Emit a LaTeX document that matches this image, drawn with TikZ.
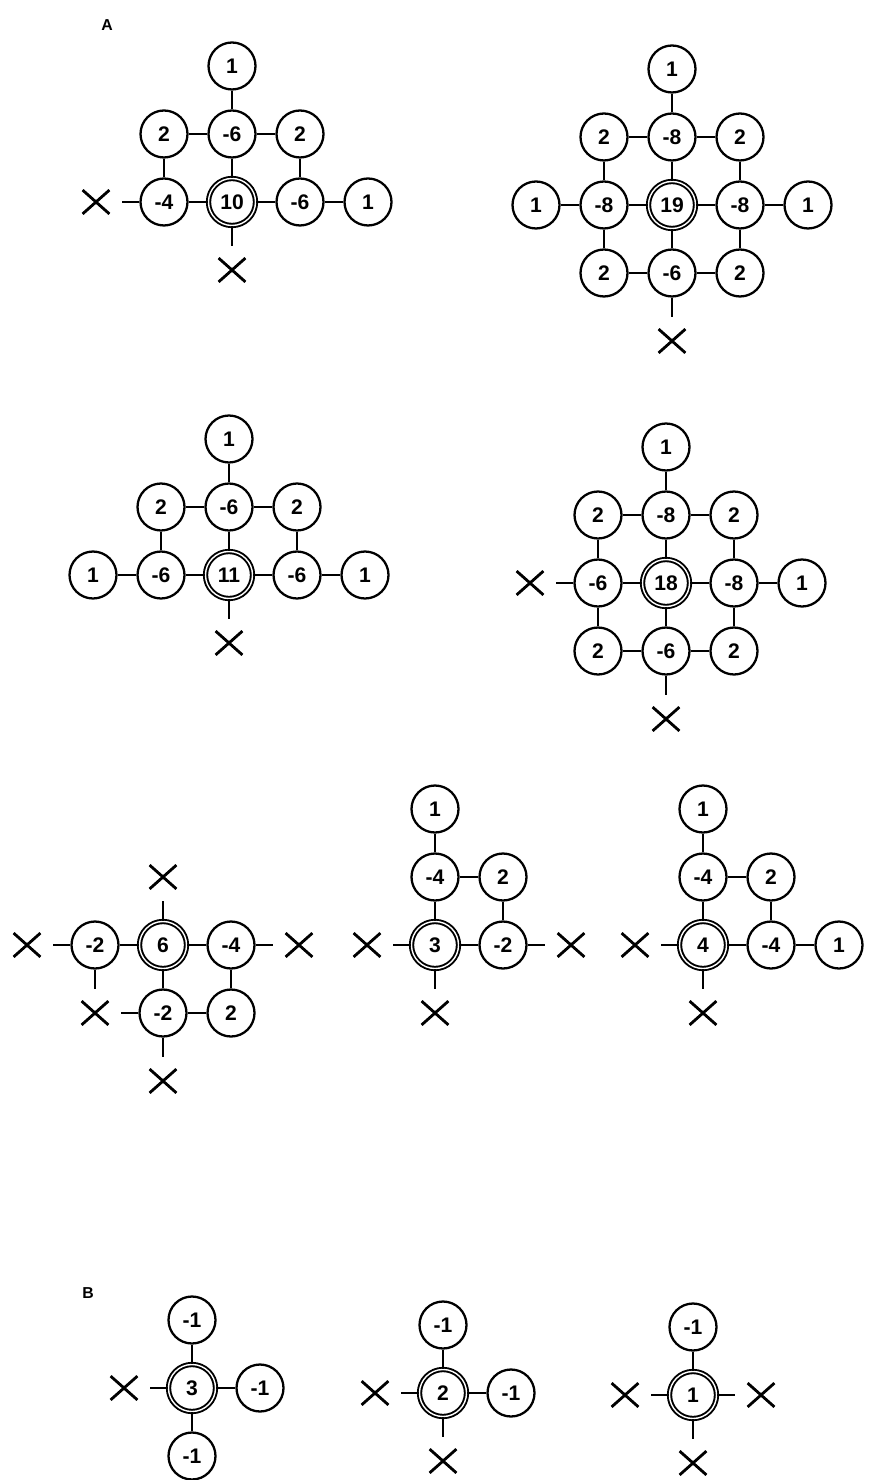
\documentclass[tikz,border=0pt]{standalone}
\usepackage{fontspec}
\setsansfont{Liberation Sans}
\usepackage{tikz}
\usetikzlibrary{shapes.misc}

\begin{document}
\begin{tikzpicture}[
    site/.style={circle,draw,line width=1.3pt,minimum size=0.94cm,inner sep=0pt,font=\sffamily\bfseries\fontsize{12}{14}\selectfont},
    ctr/.style={site,double,line width=1.1pt,double distance=0.8pt},
    xm/.style={cross out,draw,line width=1.6pt,minimum width=0.48cm,minimum height=0.42cm,inner sep=0pt},
    bond/.style={line width=0.8pt},
    stub/.style={line width=0.8pt,shorten >=0.25cm},
    lab/.style={font=\sffamily\bfseries\fontsize{9}{10}\selectfont}]
    \useasboundingbox (0,0) rectangle (17.4,-29.6);
    \node[lab] (labA) at (2.14,-0.5){A};
    \node[lab] (labB) at (1.76,-25.86){B};
    % A, top left
    \begin{scope}[shift={(4.64,-4.04)},x=1.36cm,y=1.36cm]
      \node[ctr] (a0) at (0,0){10};
      \node[site] (an) at (0,1){-6}; \node[site] (ann) at (0,2){1};
      \node[site] (anw) at (-1,1){2}; \node[site] (ane) at (1,1){2};
      \node[site] (aw) at (-1,0){-4}; \node[site] (ae) at (1,0){-6};
      \node[site] (aee) at (2,0){1};
      \node[xm] (aww) at (-2,0){}; \node[xm] (as) at (0,-1){};
      \draw[bond] (a0)--(an) (an)--(ann) (anw)--(an)--(ane) (anw)--(aw) (ane)--(ae)
        (aw)--(a0)--(ae)--(aee);
      \draw[stub] (aw)--(aww); \draw[stub] (a0)--(as);
    \end{scope}
    % A, top right
    \begin{scope}[shift={(13.44,-4.1)},x=1.36cm,y=1.36cm]
      \node[ctr] (b0) at (0,0){19};
      \node[site] (bn) at (0,1){-8}; \node[site] (bnn) at (0,2){1};
      \node[site] (bnw) at (-1,1){2}; \node[site] (bne) at (1,1){2};
      \node[site] (bw) at (-1,0){-8}; \node[site] (bww) at (-2,0){1};
      \node[site] (be) at (1,0){-8}; \node[site] (bee) at (2,0){1};
      \node[site] (bsw) at (-1,-1){2}; \node[site] (bs) at (0,-1){-6};
      \node[site] (bse) at (1,-1){2};
      \node[xm] (bss) at (0,-2){};
      \draw[bond] (b0)--(bn) (bn)--(bnn) (bnw)--(bn)--(bne) (bnw)--(bw) (bne)--(be)
        (bww)--(bw)--(b0)--(be)--(bee) (bw)--(bsw) (b0)--(bs) (be)--(bse) (bsw)--(bs)--(bse);
      \draw[stub] (bs)--(bss);
    \end{scope}
    % A, middle left
    \begin{scope}[shift={(4.58,-11.5)},x=1.36cm,y=1.36cm]
      \node[ctr] (c0) at (0,0){11};
      \node[site] (cn) at (0,1){-6}; \node[site] (cnn) at (0,2){1};
      \node[site] (cnw) at (-1,1){2}; \node[site] (cne) at (1,1){2};
      \node[site] (cw) at (-1,0){-6}; \node[site] (cww) at (-2,0){1};
      \node[site] (ce) at (1,0){-6}; \node[site] (cee) at (2,0){1};
      \node[xm] (cs) at (0,-1){};
      \draw[bond] (c0)--(cn) (cn)--(cnn) (cnw)--(cn)--(cne) (cnw)--(cw) (cne)--(ce)
        (cww)--(cw)--(c0)--(ce)--(cee);
      \draw[stub] (c0)--(cs);
    \end{scope}
    % A, middle right
    \begin{scope}[shift={(13.32,-11.66)},x=1.36cm,y=1.36cm]
      \node[ctr] (d0) at (0,0){18};
      \node[site] (dn) at (0,1){-8}; \node[site] (dnn) at (0,2){1};
      \node[site] (dnw) at (-1,1){2}; \node[site] (dne) at (1,1){2};
      \node[site] (dw) at (-1,0){-6}; \node[xm] (dww) at (-2,0){};
      \node[site] (de) at (1,0){-8}; \node[site] (dee) at (2,0){1};
      \node[site] (dsw) at (-1,-1){2}; \node[site] (ds) at (0,-1){-6};
      \node[site] (dse) at (1,-1){2};
      \node[xm] (dss) at (0,-2){};
      \draw[bond] (d0)--(dn) (dn)--(dnn) (dnw)--(dn)--(dne) (dnw)--(dw) (dne)--(de)
        (dw)--(d0)--(de)--(dee) (dw)--(dsw) (d0)--(ds) (de)--(dse) (dsw)--(ds)--(dse);
      \draw[stub] (dw)--(dww); \draw[stub] (ds)--(dss);
    \end{scope}
    % A, bottom row
    \begin{scope}[shift={(3.26,-18.9)},x=1.36cm,y=1.36cm]
      \node[ctr] (e0) at (0,0){6};
      \node[xm] (en) at (0,1){};
      \node[site] (ew) at (-1,0){-2}; \node[xm] (eww) at (-2,0){};
      \node[site] (ee) at (1,0){-4}; \node[xm] (eee) at (2,0){};
      \node[site] (es) at (0,-1){-2}; \node[site] (ese) at (1,-1){2};
      \node[xm] (esw) at (-1,-1){}; \node[xm] (ess) at (0,-2){};
      \draw[bond] (ew)--(e0)--(ee) (e0)--(es) (ee)--(ese) (es)--(ese);
      \draw[stub] (e0)--(en); \draw[stub] (ew)--(eww); \draw[stub] (ee)--(eee);
      \draw[stub] (ew)--(esw); \draw[stub] (es)--(esw); \draw[stub] (es)--(ess);
    \end{scope}
    \begin{scope}[shift={(8.7,-18.9)},x=1.36cm,y=1.36cm]
      \node[ctr] (f0) at (0,0){3};
      \node[site] (fn) at (0,1){-4}; \node[site] (fnn) at (0,2){1};
      \node[site] (fne) at (1,1){2}; \node[site] (fe) at (1,0){-2};
      \node[xm] (fw) at (-1,0){}; \node[xm] (fee) at (2,0){}; \node[xm] (fs) at (0,-1){};
      \draw[bond] (f0)--(fn)--(fnn) (fn)--(fne)--(fe) (f0)--(fe);
      \draw[stub] (f0)--(fw); \draw[stub] (fe)--(fee); \draw[stub] (f0)--(fs);
    \end{scope}
    \begin{scope}[shift={(14.06,-18.9)},x=1.36cm,y=1.36cm]
      \node[ctr] (g0) at (0,0){4};
      \node[site] (gn) at (0,1){-4}; \node[site] (gnn) at (0,2){1};
      \node[site] (gne) at (1,1){2}; \node[site] (ge) at (1,0){-4};
      \node[site] (gee) at (2,0){1};
      \node[xm] (gw) at (-1,0){}; \node[xm] (gs) at (0,-1){};
      \draw[bond] (g0)--(gn)--(gnn) (gn)--(gne)--(ge) (g0)--(ge)--(gee);
      \draw[stub] (g0)--(gw); \draw[stub] (g0)--(gs);
    \end{scope}
    % B
    \begin{scope}[shift={(3.84,-27.76)},x=1.36cm,y=1.36cm]
      \node[ctr] (h0) at (0,0){3};
      \node[site] (hn) at (0,1){-1}; \node[site] (he) at (1,0){-1};
      \node[site] (hs) at (0,-1){-1}; \node[xm] (hw) at (-1,0){};
      \draw[bond] (hn)--(h0)--(he) (h0)--(hs);
      \draw[stub] (h0)--(hw);
    \end{scope}
    \begin{scope}[shift={(8.86,-27.86)},x=1.36cm,y=1.36cm]
      \node[ctr] (i0) at (0,0){2};
      \node[site] (in) at (0,1){-1}; \node[site] (ie) at (1,0){-1};
      \node[xm] (iw) at (-1,0){}; \node[xm] (is) at (0,-1){};
      \draw[bond] (in)--(i0)--(ie);
      \draw[stub] (i0)--(iw); \draw[stub] (i0)--(is);
    \end{scope}
    \begin{scope}[shift={(13.86,-27.9)},x=1.36cm,y=1.36cm]
      \node[ctr] (j0) at (0,0){1};
      \node[site] (jn) at (0,1){-1};
      \node[xm] (jw) at (-1,0){}; \node[xm] (je) at (1,0){}; \node[xm] (js) at (0,-1){};
      \draw[bond] (jn)--(j0);
      \draw[stub] (j0)--(jw); \draw[stub] (j0)--(je); \draw[stub] (j0)--(js);
    \end{scope}
\end{tikzpicture}
\end{document}
